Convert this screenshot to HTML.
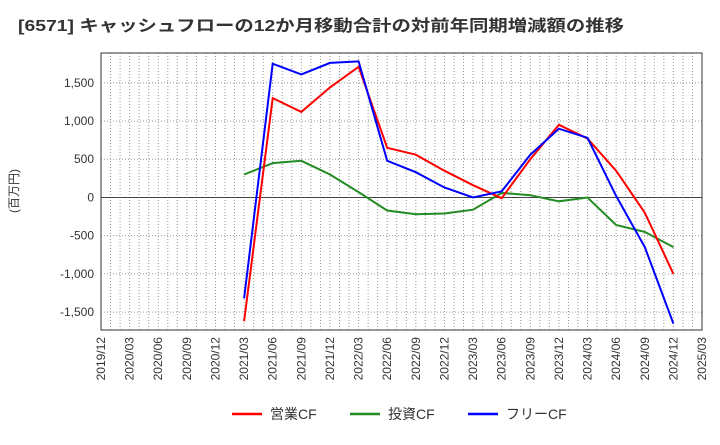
<!DOCTYPE html>
<html><head><meta charset="utf-8"><style>
body{margin:0;background:#fff;font-family:"Liberation Sans","Noto Sans CJK JP",sans-serif;}
</style></head><body>
<svg width="720" height="440" xmlns="http://www.w3.org/2000/svg">
<text x="18" y="31" font-size="16" font-weight="bold" fill="#333" textLength="606" lengthAdjust="spacingAndGlyphs">[6571]  キャッシュフローの12か月移動合計の対前年同期増減額の推移</text>
<text transform="translate(18,191) rotate(-90)" font-size="12" fill="#333" text-anchor="middle">(百万円)</text>
<g id="grid"></g><g id="axes"></g><g id="series"></g>
<g>
<line x1="232" y1="414" x2="262" y2="414" stroke="#ff0000" stroke-width="2.5"/>
<text x="270" y="419" font-size="14" fill="#333">営業CF</text>
<line x1="350" y1="414" x2="380" y2="414" stroke="#228b22" stroke-width="2.5"/>
<text x="388" y="419" font-size="14" fill="#333">投資CF</text>
<line x1="468" y1="414" x2="498" y2="414" stroke="#0000ff" stroke-width="2.5"/>
<text x="506" y="419" font-size="14" fill="#333">フリーCF</text>
</g>
</svg>
<script>
const xLabels=["2019/12","2020/03","2020/06","2020/09","2020/12","2021/03","2021/06","2021/09","2021/12","2022/03","2022/06","2022/09","2022/12","2023/03","2023/06","2023/09","2023/12","2024/03","2024/06","2024/09","2024/12","2025/03"];
const yTicks=[-1500,-1000,-500,0,500,1000,1500];
const startIdx=5;
const opCF=[-1620,1300,1120,1440,1710,650,560,350,160,-10,500,950,770,350,-200,-1000];
const invCF=[300,450,480,300,70,-170,-220,-210,-160,60,30,-50,0,-360,-450,-650];
const freeCF=[-1320,1750,1610,1760,1780,480,330,130,0,80,560,900,780,20,-650,-1650];
const L=101,R=702,T=53,B=330,yMax=1890,yMin=-1734;
const xq=i=>L+(R-L)*i/21;
const y=v=>T+(yMax-v)/(yMax-yMin)*(B-T);
const ns="http://www.w3.org/2000/svg";
function mk(tag,attrs,parent){const e=document.createElementNS(ns,tag);for(const k in attrs)e.setAttribute(k,attrs[k]);parent.appendChild(e);return e;}
const grid=document.getElementById('grid'),axes=document.getElementById('axes'),ser=document.getElementById('series');
for(let m=1;m<63;m++){const x=L+(R-L)*m/63;const l=mk('line',{x1:x,x2:x,y1:T,y2:B,stroke:'#999','stroke-dasharray':'1,2','stroke-width':1},grid);}
yTicks.forEach(v=>{const yy=y(v);const l=mk('line',{x1:L,x2:R,y1:yy,y2:yy,stroke:v===0?'#444':'#999','stroke-dasharray':v===0?'':'1,2','stroke-width':1},grid);
const t=mk('text',{x:L-7,y:yy+4,'text-anchor':'end','font-size':12,fill:'#333'},axes);t.textContent=v.toLocaleString('en-US');});
const f=mk('rect',{x:L,y:T,width:R-L,height:B-T,fill:'none',stroke:'#333','stroke-width':1},axes);
xLabels.forEach((s,i)=>{const x=xq(i);const t=mk('text',{transform:`translate(${x+4},${B+7}) rotate(-90)`,'text-anchor':'end','font-size':12,fill:'#333'},axes);t.textContent=s;});
[[invCF,'#228b22','investing-cf-line'],[opCF,'#ff0000','operating-cf-line'],[freeCF,'#0000ff','free-cf-line']].forEach(([d,c,n])=>{const p=d.map((v,i)=>xq(startIdx+i).toFixed(1)+','+y(v).toFixed(1)).join(' ');const pl=mk('polyline',{points:p,fill:'none',stroke:c,'stroke-width':2},ser);});
</script>
</body></html>
